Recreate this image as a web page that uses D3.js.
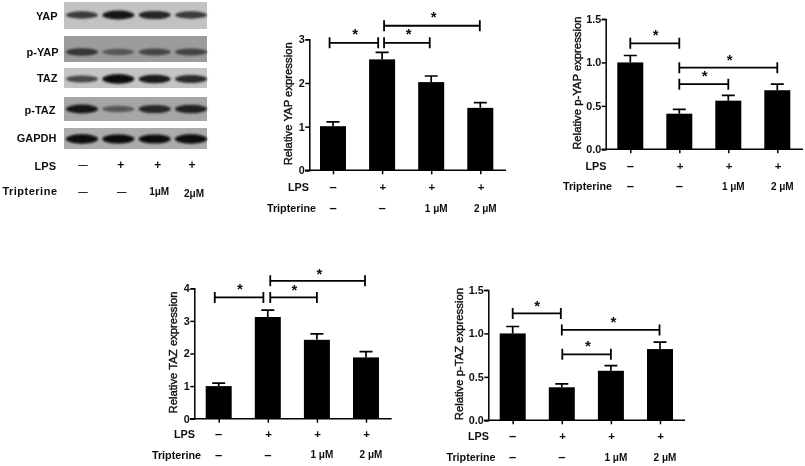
<!DOCTYPE html>
<html><head><meta charset="utf-8">
<script src="https://cdn.jsdelivr.net/npm/d3@7/dist/d3.min.js"></script>
<style>html,body{margin:0;background:#fff}svg{display:block}text{font-family:"Liberation Sans",Arial,sans-serif;fill:#111}</style>
</head><body><svg id="c" width="805" height="466"></svg>
<script>
// ---- data ----
const lpsLabels = ["–","+","+","+"];
const tripLabels = ["–","–","1 μM","2 μM"];
const blotLpsLabels = ["—","+","+","+"];
const tripBlotLabels = ["—","—","1μM","2μM"];

const yapValues = [1.01,2.54,2.02,1.43];
const yapTops   = [1.11,2.70,2.16,1.55];
const pYapValues = [1.00,0.41,0.56,0.68];
const pYapTops   = [1.08,0.46,0.62,0.75];
const tazValues = [1.00,3.12,2.42,1.88];
const tazTops   = [1.09,3.33,2.60,2.06];
const pTazValues = [1.00,0.38,0.57,0.82];
const pTazTops   = [1.08,0.42,0.63,0.90];

const yapTicks = [0,1,2,3];
const tazTicks = [0,1,2,3,4];
const pTicks = [0,0.5,1,1.5];

// brackets: [from group, to group, value level]; stars: [group position, value level]
const yapBrackets = [[-0.07,0.92,2.92],[1.04,1.97,2.92],[1.04,2.99,3.31]];
const yapStars = [[0.45,3.15],[1.54,3.15],[2.05,3.53]];
const pYapBrackets = [[0,1,1.22],[1,2,0.75],[1,3,0.94]];
const pYapStars = [[0.52,1.33],[1.52,0.86],[2.03,1.04]];
const tazBrackets = [[-0.08,0.91,3.72],[1.05,2,3.72],[1.05,2.98,4.23]];
const tazStars = [[0.43,4.0],[1.54,3.97],[2.05,4.48]];
const pTazBrackets = [[0,0.98,1.23],[1.01,2,0.76],[1,2.99,1.04]];
const pTazStars = [[0.5,1.33],[1.53,0.87],[2.05,1.14]];

const blotRows = ["YAP","p-YAP","TAZ","p-TAZ","GAPDH"];
const blotBands = [
  [0.58,0.85,0.72,0.58],
  [0.62,0.38,0.50,0.52],
  [0.48,0.95,0.80,0.70],
  [0.85,0.38,0.72,0.76],
  [0.95,0.90,0.88,0.95]
];
const blotBackgrounds = ["#c2c2c2","#9c9c9c","#c4c4c4","#a6a6a6","#ababab"];

// ---- layout ----
const svg = d3.select("#c");
const defs = svg.append("defs");
defs.append("filter").attr("id","soft").attr("x","-5%").attr("y","-5%").attr("width","110%").attr("height","110%")
  .append("feGaussianBlur").attr("stdDeviation",0.35);
defs.append("filter").attr("id","band").attr("x","-30%").attr("y","-60%").attr("width","160%").attr("height","220%")
  .append("feGaussianBlur").attr("stdDeviation",1.3);

const root = svg.append("g").attr("filter","url(#soft)");

const panels = [
 {title:"Relative YAP expression",values:yapValues,tops:yapTops,ticks:yapTicks,fmt:d3.format("d"),max:3,
  x0:333,x3:480.3,axisX:309.3,axisEnd:506,yTop:39.3,yBase:170.3,brackets:yapBrackets,stars:yapStars,
  lpsY:188,tripY:209,lpsX:298.5,tripX:291.5,titleX:289.5},
 {title:"Relative p-YAP expression",values:pYapValues,tops:pYapTops,ticks:pTicks,fmt:d3.format(".1f"),max:1.5,
  x0:630.3,x3:777.3,axisX:605.7,axisEnd:803,yTop:19,yBase:149.3,brackets:pYapBrackets,stars:pYapStars,
  lpsY:167,tripY:187,lpsX:596,tripX:587.5,titleX:578},
 {title:"Relative TAZ expression",values:tazValues,tops:tazTops,ticks:tazTicks,fmt:d3.format("d"),max:4,
  x0:218.7,x3:366,axisX:194.3,axisEnd:391.7,yTop:288.3,yBase:418.7,brackets:tazBrackets,stars:tazStars,
  lpsY:434.7,tripY:455.7,lpsX:184.5,tripX:176.5,titleX:174.5},
 {title:"Relative p-TAZ expression",values:pTazValues,tops:pTazTops,ticks:pTicks,fmt:d3.format(".1f"),max:1.5,
  x0:512.7,x3:660,axisX:488.3,axisEnd:685,yTop:290,yBase:420.3,brackets:pTazBrackets,stars:pTazStars,
  lpsY:436.7,tripY:458,lpsX:478.5,tripX:471,titleX:460.5}
];

const bold = sel => sel.attr("font-weight","bold");
const mid = sel => sel.attr("text-anchor","middle").attr("dominant-baseline","middle");

panels.forEach(p=>{
  const g = root.append("g");
  const x = d3.scaleLinear().domain([0,3]).range([p.x0,p.x3]);
  const y = d3.scaleLinear().domain([0,p.max]).range([p.yBase,p.yTop]);
  const barW = 26;

  g.selectAll(".bar").data(p.values).join("rect")
    .attr("x",(d,i)=>x(i)-barW/2).attr("width",barW)
    .attr("y",d=>y(d)).attr("height",d=>y(0)-y(d)).attr("fill","#000");

  g.selectAll(".err").data(p.tops).join("path")
    .attr("d",(d,i)=>`M${x(i)},${y(p.values[i])}V${y(d)}M${x(i)-6.5},${y(d)}H${x(i)+6.5}`)
    .attr("stroke","#000").attr("stroke-width",1.7).attr("fill","none");

  const ya = d3.axisLeft(y).tickValues(p.ticks).tickFormat(p.fmt).tickSize(4).tickPadding(0.5);
  const ga = g.append("g").attr("transform",`translate(${p.axisX},0)`).call(ya);
  ga.select(".domain").attr("stroke-width",1.5).attr("stroke","#000");
  ga.selectAll(".tick line").attr("stroke-width",1.5).attr("stroke","#000");
  ga.selectAll("text").attr("font-size",10.8).attr("font-weight","bold").attr("font-family",'"Liberation Sans"').attr("fill","#111");

  const xa = d3.axisBottom(x).tickValues([0,1,2,3]).tickFormat("").tickSize(4);
  const gx = g.append("g").attr("transform",`translate(0,${p.yBase})`).call(xa);
  gx.select(".domain").remove();
  gx.selectAll(".tick line").attr("stroke-width",1.5).attr("stroke","#000");
  g.append("line").attr("x1",p.axisX-4).attr("x2",p.axisEnd).attr("y1",p.yBase).attr("y2",p.yBase)
    .attr("stroke","#000").attr("stroke-width",1.5);

  g.append("text").attr("transform",`translate(${p.titleX},${(p.yBase+p.yTop)/2-1}) rotate(-90)`)
    .call(mid).attr("font-size",11.3).attr("stroke","#111").attr("stroke-width",0.4).text(p.title);

  g.selectAll(".br").data(p.brackets).join("path")
    .attr("d",d=>`M${x(d[0])},${y(d[2])-5.5}v11M${x(d[0])},${y(d[2])}H${x(d[1])}M${x(d[1])},${y(d[2])-5.5}v11`)
    .attr("stroke","#000").attr("stroke-width",1.8).attr("fill","none");
  g.selectAll(".st").data(p.stars).join("text")
    .attr("x",d=>x(d[0])).attr("y",d=>y(d[1])+6).attr("text-anchor","middle")
    .attr("font-size",15).call(bold).text("*");

  g.append("text").attr("x",p.lpsX).attr("y",p.lpsY).call(mid).attr("font-size",10.8).call(bold).text("LPS");
  g.append("text").attr("x",p.tripX).attr("y",p.tripY).call(mid).attr("font-size",10.8).call(bold).text("Tripterine");
  g.selectAll(".l").data(lpsLabels).join("text")
    .attr("x",(d,i)=>x(i)+(i?0.7:0)).attr("y",p.lpsY).call(mid)
    .attr("font-size",(d,i)=>i?11.5:13).call(bold).text(d=>d);
  g.selectAll(".t").data(tripLabels).join("text")
    .attr("x",(d,i)=>x(i)+(i>1?5:0)).attr("y",p.tripY).call(mid)
    .attr("font-size",(d,i)=>i>1?10:13).call(bold).text(d=>d);
});

// ---- blot panel ----
const blotX = d3.scalePoint().domain(d3.range(4)).range([82,191]);
const rowTop = d3.scaleOrdinal().domain(blotRows).range([2,36,68,97,128]);
const rowBottom = d3.scaleOrdinal().domain(blotRows).range([29,62,88,121,149]);
const rowBand = d3.scaleOrdinal().domain(blotRows).range([15,52,79,109,139]);
const rowLabelY = d3.scaleOrdinal().domain(blotRows).range([17,52.7,79,110.7,139]);
const rowLabelRight = d3.scaleOrdinal().domain(blotRows).range([57.5,58.5,57.5,55.5,56.5]);
const shade = d3.scaleLinear().domain([0,1]).range(["#8a8a8a","#000"]);
const lpsOffset = [1,2.5,3,1];
const tripOffset = [1,3.5,4.5,3];
const blot = root.append("g");
blotRows.forEach((r,ri)=>{
  blot.append("rect").attr("x",64).attr("width",143).attr("y",rowTop(r)).attr("height",rowBottom(r)-rowTop(r)).attr("fill",blotBackgrounds[ri]);
  blot.selectAll(".b"+ri).data(blotBands[ri]).join("ellipse")
    .attr("cx",(d,i)=>blotX(i)).attr("cy",rowBand(r)).attr("rx",16).attr("ry",d=>2.2+d*2.6)
    .attr("fill",d=>shade(d)).attr("filter","url(#band)");
  blot.append("text").attr("x",rowLabelRight(r)).attr("y",rowLabelY(r)).attr("text-anchor","end").attr("dominant-baseline","middle")
    .attr("font-size",11).call(bold).text(r);
});
blot.append("text").attr("x",56).attr("y",167).attr("text-anchor","end").attr("dominant-baseline","middle").attr("font-size",11).call(bold).text("LPS");
blot.append("text").attr("x",57.5).attr("y",191.7).attr("text-anchor","end").attr("dominant-baseline","middle").attr("font-size",11).attr("letter-spacing",0.5).call(bold).text("Tripterine");
blot.selectAll(".bl").data(blotLpsLabels).join("text").attr("x",(d,i)=>blotX(i)+lpsOffset[i]).attr("y",165.7)
  .call(mid).attr("font-size",(d,i)=>i?12:9.5).call(bold).text(d=>d);
blot.selectAll(".bt").data(tripBlotLabels).join("text").attr("x",(d,i)=>blotX(i)+tripOffset[i]).attr("y",(d,i)=>i==3?194:192.5)
  .call(mid).attr("font-size",(d,i)=>i>1?10:9.5).call(bold).text(d=>d);
</script></body></html>
